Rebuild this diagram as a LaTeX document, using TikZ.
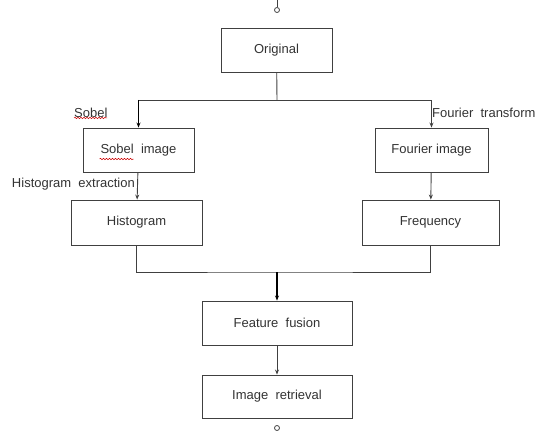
\documentclass[tikz,border=0pt]{standalone}
\usepackage{fontspec}
\setmainfont{Liberation Sans}
\usepackage{tikz}
\usetikzlibrary{arrows.meta,decorations.pathmorphing}

\tikzset{
  stepbox/.style={draw=black!75, line width=0.9pt, fill=white, inner sep=0pt,
    font=\fontsize{13}{15}\selectfont, text=black!80},
  lbl/.style={inner sep=1pt, font=\fontsize{13}{15}\selectfont, text=black!80},
  flow/.style={draw=black!75, line width=0.9pt},
  fat/.style={draw=black, line width=1.3pt},
  tip/.style={-{Stealth[length=5pt,width=4pt]}},
  spell/.style={draw=red!80!black, line width=0.5pt,
    decorate, decoration={snake, amplitude=0.7pt, segment length=3pt}}
}

\begin{document}
\begin{tikzpicture}[x=1pt,y=-1pt]
\useasboundingbox (0,0) rectangle (538,433);

\node[stepbox, minimum width=111pt, minimum height=44pt] (orig) at (276.5,50) {Original};
\node[stepbox, minimum width=111pt, minimum height=44pt] (sobel) at (138.5,150) {Sobel\ \ image};
\node[stepbox, minimum width=113pt, minimum height=44pt] (fourier) at (431.5,150) {Fourier\ image};
\node[stepbox, minimum width=131pt, minimum height=45pt] (hist) at (136.5,222.5) {Histogram};
\node[stepbox, minimum width=137pt, minimum height=45pt] (freq) at (430.5,222.5) {Frequency};
\node[stepbox, minimum width=150pt, minimum height=44pt] (fusion) at (277,323) {Feature\ \ fusion};
\node[stepbox, minimum width=150pt, minimum height=43pt] (retr) at (277,396.5) {Image\ \ retrieval};

% start and end marks
\coordinate (top) at (277,0);
\node[circle, draw=black!75, line width=0.8pt, minimum size=5pt, inner sep=0pt] (start) at (277,10) {};
\node[circle, draw=black!75, line width=0.8pt, minimum size=5pt, inner sep=0pt] (stop) at (277,428) {};
\draw[flow] (top) -- (start);

% branch
\coordinate (split) at (277,100);
\coordinate (merge) at (277,272);
\coordinate (turn) at (sobel.north |- split);
\draw[flow] (orig) -- (split);
\draw[flow] (split) -- (turn);
\draw[fat, tip] (turn) -- (sobel.north);
\draw[flow, tip] (split) -| (fourier.north);
\draw[flow, tip] (sobel) -- (hist);
\draw[flow, tip] (fourier) -- (freq);

% merge
\draw[flow] (hist.south) |- (merge) -| (freq.south);
\draw[fat, tip] (merge) -- (fusion);
\draw[flow, tip] (fusion) -- (retr);

% labels
\node[lbl, anchor=west] (lsobel) at (73,113) {Sobel};
\node[lbl, anchor=east] (lhist) at (136,184) {Histogram\ \ extraction};
\node[lbl, anchor=west] (lfour) at (431,113) {Fourier\ \ transform};
\draw[spell] (lsobel.south west) ++(1,-1) -- ++(33,0);
\draw[spell] (sobel.center) ++(-39,9) -- ++(34,0);

\end{tikzpicture}
\end{document}
